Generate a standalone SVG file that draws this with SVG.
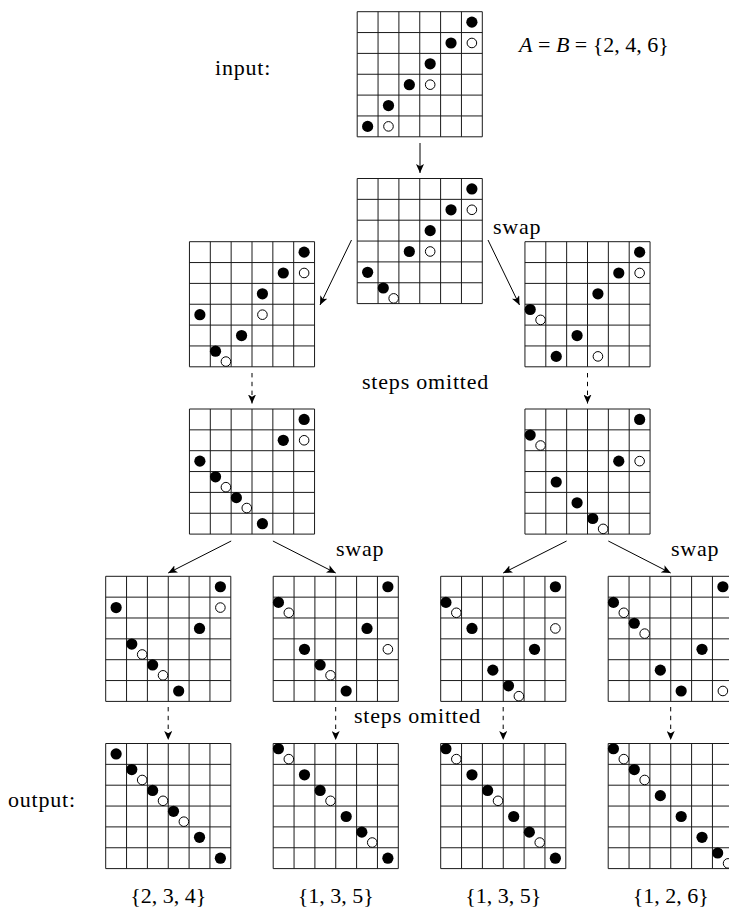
<svg xmlns="http://www.w3.org/2000/svg" xmlns:xlink="http://www.w3.org/1999/xlink" width="729" height="913" viewBox="0 0 729 913">
<style>
.t{font-family:"Liberation Serif","Times New Roman",serif;font-size:22px;fill:#000;letter-spacing:0.8px}
.m{font-family:"Liberation Serif","Times New Roman",serif;font-size:22px;fill:#000}
.a{fill:none;stroke:#000;stroke-width:1;marker-end:url(#ah)}
.d{stroke-dasharray:4.4 4.4}
</style>
<defs>
<marker id="ah" markerUnits="userSpaceOnUse" markerWidth="10" markerHeight="8" refX="9" refY="4" orient="auto"><path d="M0,0 L9,4 L0,8 L2.2,4 Z" fill="#000"/></marker>
<path id="grid" fill="none" stroke="#1a1a1a" stroke-width="1" d="M0,0H125.1V125.1H0Z M20.85,0V125.1 M41.7,0V125.1 M62.55,0V125.1 M83.4,0V125.1 M104.25,0V125.1 M0,20.85H125.1 M0,41.7H125.1 M0,62.55H125.1 M0,83.4H125.1 M0,104.25H125.1"/>
<circle id="bd" r="5.6" fill="#000"/>
<circle id="wd" r="4.8" fill="#fff" stroke="#000" stroke-width="1"/>
</defs>

<g id="connectors">
<line class="a" x1="420" y1="143" x2="420" y2="173"/>
<line class="a" x1="351.5" y1="240" x2="320" y2="305"/>
<line class="a" x1="488" y1="240" x2="519.5" y2="305"/>
<line class="a d" x1="252" y1="373" x2="252" y2="403.5"/>
<line class="a d" x1="587.5" y1="373" x2="587.5" y2="403.5"/>
<line class="a" x1="231.2" y1="541" x2="168.2" y2="573"/>
<line class="a" x1="272.9" y1="541" x2="335.7" y2="573"/>
<line class="a" x1="566.6" y1="541" x2="503.2" y2="573"/>
<line class="a" x1="608.3" y1="541" x2="670.7" y2="573"/>
<line class="a d" x1="168.2" y1="707" x2="168.2" y2="740"/>
<line class="a d" x1="335.7" y1="707" x2="335.7" y2="740"/>
<line class="a d" x1="503.2" y1="707" x2="503.2" y2="740"/>
<line class="a d" x1="670.7" y1="707" x2="670.7" y2="740"/>
</g>

<g id="g0" transform="translate(357.2,11.7)">
<use xlink:href="#grid"/>
<use xlink:href="#bd" x="114.68" y="10.43"/>
<use xlink:href="#bd" x="93.83" y="31.28"/>
<use xlink:href="#wd" x="114.68" y="31.28"/>
<use xlink:href="#bd" x="72.98" y="52.13"/>
<use xlink:href="#bd" x="52.13" y="72.98"/>
<use xlink:href="#wd" x="72.98" y="72.98"/>
<use xlink:href="#bd" x="31.28" y="93.83"/>
<use xlink:href="#bd" x="10.43" y="114.68"/>
<use xlink:href="#wd" x="31.28" y="114.68"/>
</g>

<g id="g1" transform="translate(357.2,178.5)">
<use xlink:href="#grid"/>
<use xlink:href="#bd" x="114.68" y="10.43"/>
<use xlink:href="#bd" x="93.83" y="31.28"/>
<use xlink:href="#wd" x="114.68" y="31.28"/>
<use xlink:href="#bd" x="72.98" y="52.13"/>
<use xlink:href="#bd" x="52.13" y="72.98"/>
<use xlink:href="#wd" x="72.98" y="72.98"/>
<use xlink:href="#bd" x="10.43" y="93.83"/>
<use xlink:href="#bd" x="26.08" y="109.48"/>
<use xlink:href="#wd" x="36.48" y="119.88"/>
</g>

<g id="g2" transform="translate(189.45,241.7)">
<use xlink:href="#grid"/>
<use xlink:href="#bd" x="114.68" y="10.43"/>
<use xlink:href="#bd" x="93.83" y="31.28"/>
<use xlink:href="#wd" x="114.68" y="31.28"/>
<use xlink:href="#bd" x="72.98" y="52.13"/>
<use xlink:href="#bd" x="10.43" y="72.98"/>
<use xlink:href="#wd" x="72.98" y="72.98"/>
<use xlink:href="#bd" x="52.13" y="93.83"/>
<use xlink:href="#bd" x="26.08" y="109.48"/>
<use xlink:href="#wd" x="36.48" y="119.88"/>
</g>

<g id="g3" transform="translate(524.95,241.7)">
<use xlink:href="#grid"/>
<use xlink:href="#bd" x="114.68" y="10.43"/>
<use xlink:href="#bd" x="93.83" y="31.28"/>
<use xlink:href="#wd" x="114.68" y="31.28"/>
<use xlink:href="#bd" x="72.98" y="52.13"/>
<use xlink:href="#bd" x="5.23" y="67.78"/>
<use xlink:href="#wd" x="15.63" y="78.18"/>
<use xlink:href="#bd" x="52.13" y="93.83"/>
<use xlink:href="#bd" x="31.28" y="114.68"/>
<use xlink:href="#wd" x="72.98" y="114.68"/>
</g>

<g id="g4" transform="translate(189.45,409)">
<use xlink:href="#grid"/>
<use xlink:href="#bd" x="114.68" y="10.43"/>
<use xlink:href="#bd" x="93.83" y="31.28"/>
<use xlink:href="#wd" x="114.68" y="31.28"/>
<use xlink:href="#bd" x="10.43" y="52.13"/>
<use xlink:href="#bd" x="26.08" y="67.78"/>
<use xlink:href="#wd" x="36.48" y="78.18"/>
<use xlink:href="#bd" x="46.93" y="88.63"/>
<use xlink:href="#wd" x="57.33" y="99.03"/>
<use xlink:href="#bd" x="72.98" y="114.68"/>
</g>

<g id="g5" transform="translate(524.95,409)">
<use xlink:href="#grid"/>
<use xlink:href="#bd" x="114.68" y="10.43"/>
<use xlink:href="#bd" x="5.23" y="26.08"/>
<use xlink:href="#wd" x="15.63" y="36.48"/>
<use xlink:href="#bd" x="93.83" y="52.13"/>
<use xlink:href="#wd" x="114.68" y="52.13"/>
<use xlink:href="#bd" x="31.28" y="72.98"/>
<use xlink:href="#bd" x="52.13" y="93.83"/>
<use xlink:href="#bd" x="67.78" y="109.48"/>
<use xlink:href="#wd" x="78.18" y="119.88"/>
</g>

<g id="r5a" transform="translate(105.7,576.3)">
<use xlink:href="#grid"/>
<use xlink:href="#bd" x="114.68" y="10.43"/>
<use xlink:href="#bd" x="10.43" y="31.28"/>
<use xlink:href="#wd" x="114.68" y="31.28"/>
<use xlink:href="#bd" x="93.83" y="52.13"/>
<use xlink:href="#bd" x="26.08" y="67.78"/>
<use xlink:href="#wd" x="36.48" y="78.18"/>
<use xlink:href="#bd" x="46.93" y="88.63"/>
<use xlink:href="#wd" x="57.33" y="99.03"/>
<use xlink:href="#bd" x="72.98" y="114.68"/>
</g>

<g id="r5b" transform="translate(273.2,576.3)">
<use xlink:href="#grid"/>
<use xlink:href="#bd" x="114.68" y="10.43"/>
<use xlink:href="#bd" x="5.23" y="26.08"/>
<use xlink:href="#wd" x="15.63" y="36.48"/>
<use xlink:href="#bd" x="93.83" y="52.13"/>
<use xlink:href="#bd" x="31.28" y="72.98"/>
<use xlink:href="#wd" x="114.68" y="72.98"/>
<use xlink:href="#bd" x="46.93" y="88.63"/>
<use xlink:href="#wd" x="57.33" y="99.03"/>
<use xlink:href="#bd" x="72.98" y="114.68"/>
</g>

<g id="r5c" transform="translate(440.7,576.3)">
<use xlink:href="#grid"/>
<use xlink:href="#bd" x="114.68" y="10.43"/>
<use xlink:href="#bd" x="5.23" y="26.08"/>
<use xlink:href="#wd" x="15.63" y="36.48"/>
<use xlink:href="#bd" x="31.28" y="52.13"/>
<use xlink:href="#wd" x="114.68" y="52.13"/>
<use xlink:href="#bd" x="93.83" y="72.98"/>
<use xlink:href="#bd" x="52.13" y="93.83"/>
<use xlink:href="#bd" x="67.78" y="109.48"/>
<use xlink:href="#wd" x="78.18" y="119.88"/>
</g>

<g id="r5d" transform="translate(608.2,576.3)">
<use xlink:href="#grid"/>
<use xlink:href="#bd" x="114.68" y="10.43"/>
<use xlink:href="#bd" x="5.23" y="26.08"/>
<use xlink:href="#wd" x="15.63" y="36.48"/>
<use xlink:href="#bd" x="26.08" y="46.93"/>
<use xlink:href="#wd" x="36.48" y="57.33"/>
<use xlink:href="#bd" x="93.83" y="72.98"/>
<use xlink:href="#bd" x="52.13" y="93.83"/>
<use xlink:href="#bd" x="72.98" y="114.68"/>
<use xlink:href="#wd" x="114.68" y="114.68"/>
</g>

<g id="r6a" transform="translate(105.7,743.5)">
<use xlink:href="#grid"/>
<use xlink:href="#bd" x="10.43" y="10.43"/>
<use xlink:href="#bd" x="26.08" y="26.08"/>
<use xlink:href="#wd" x="36.48" y="36.48"/>
<use xlink:href="#bd" x="46.93" y="46.93"/>
<use xlink:href="#wd" x="57.33" y="57.33"/>
<use xlink:href="#bd" x="67.78" y="67.78"/>
<use xlink:href="#wd" x="78.18" y="78.18"/>
<use xlink:href="#bd" x="93.83" y="93.83"/>
<use xlink:href="#bd" x="114.68" y="114.68"/>
</g>

<g id="r6b" transform="translate(273.2,743.5)">
<use xlink:href="#grid"/>
<use xlink:href="#bd" x="5.23" y="5.23"/>
<use xlink:href="#wd" x="15.63" y="15.63"/>
<use xlink:href="#bd" x="31.28" y="31.28"/>
<use xlink:href="#bd" x="46.93" y="46.93"/>
<use xlink:href="#wd" x="57.33" y="57.33"/>
<use xlink:href="#bd" x="72.98" y="72.98"/>
<use xlink:href="#bd" x="88.63" y="88.63"/>
<use xlink:href="#wd" x="99.03" y="99.03"/>
<use xlink:href="#bd" x="114.68" y="114.68"/>
</g>

<g id="r6c" transform="translate(440.7,743.5)">
<use xlink:href="#grid"/>
<use xlink:href="#bd" x="5.23" y="5.23"/>
<use xlink:href="#wd" x="15.63" y="15.63"/>
<use xlink:href="#bd" x="31.28" y="31.28"/>
<use xlink:href="#bd" x="46.93" y="46.93"/>
<use xlink:href="#wd" x="57.33" y="57.33"/>
<use xlink:href="#bd" x="72.98" y="72.98"/>
<use xlink:href="#bd" x="88.63" y="88.63"/>
<use xlink:href="#wd" x="99.03" y="99.03"/>
<use xlink:href="#bd" x="114.68" y="114.68"/>
</g>

<g id="r6d" transform="translate(608.2,743.5)">
<use xlink:href="#grid"/>
<use xlink:href="#bd" x="5.23" y="5.23"/>
<use xlink:href="#wd" x="15.63" y="15.63"/>
<use xlink:href="#bd" x="26.08" y="26.08"/>
<use xlink:href="#wd" x="36.48" y="36.48"/>
<use xlink:href="#bd" x="52.13" y="52.13"/>
<use xlink:href="#bd" x="72.98" y="72.98"/>
<use xlink:href="#bd" x="93.83" y="93.83"/>
<use xlink:href="#bd" x="109.48" y="109.48"/>
<use xlink:href="#wd" x="119.88" y="119.88"/>
</g>

<g id="labels">
<text class="t" x="215" y="75">input:</text>
<text class="m" x="519" y="52"><tspan font-style="italic">A</tspan> = <tspan font-style="italic">B</tspan> = {2, 4, 6}</text>
<text class="t" x="493" y="234">swap</text>
<text class="t" x="362" y="389">steps omitted</text>
<text class="t" x="336" y="556">swap</text>
<text class="t" x="671" y="556">swap</text>
<text class="t" x="354" y="723">steps omitted</text>
<text class="t" x="8" y="807">output:</text>
<text class="m" x="168.2" y="903" text-anchor="middle">{2, 3, 4}</text>
<text class="m" x="335.8" y="903" text-anchor="middle">{1, 3, 5}</text>
<text class="m" x="503.3" y="903" text-anchor="middle">{1, 3, 5}</text>
<text class="m" x="670.8" y="903" text-anchor="middle">{1, 2, 6}</text>
</g>
</svg>
